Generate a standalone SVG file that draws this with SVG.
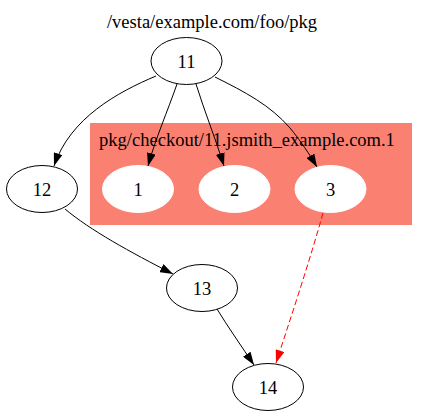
<svg xmlns="http://www.w3.org/2000/svg" width="427" height="416" viewBox="0 0 427 416">
<defs>
<marker id="ah" viewBox="0 0 13 9" refX="13" refY="4.5" markerWidth="13" markerHeight="9" markerUnits="userSpaceOnUse" orient="auto"><path d="M0,0 L13,4.5 L0,9 z" fill="#000"/></marker>
<marker id="ahr" viewBox="0 0 13 9" refX="13" refY="4.5" markerWidth="13" markerHeight="9" markerUnits="userSpaceOnUse" orient="auto"><path d="M0,0 L13,4.5 L0,9 z" fill="#f00"/></marker>
<style>
text{font-family:"Liberation Serif","Times New Roman",serif;font-size:18.5px;fill:#000}
.n ellipse{fill:#fff;stroke:#000;stroke-width:1}
.w ellipse{fill:#fff;stroke:#fff;stroke-width:1}
.e{fill:none;stroke:#000;stroke-width:1;marker-end:url(#ah)}
.r{fill:none;stroke:#f00;stroke-width:1;stroke-dasharray:6,3;marker-end:url(#ahr)}
.c{text-anchor:middle}
</style>
</defs>
<rect width="427" height="416" fill="#fff"/>
<text x="212" y="28" class="c">/vesta/example.com/foo/pkg</text>
<g id="cluster">
<rect x="90" y="123" width="322" height="102" fill="#fa8072"/>
<text x="247" y="146" class="c">pkg/checkout/11.jsmith_example.com.1</text>
</g>
<g id="edges">
<path class="e" d="M156,76 C118,92 70,118 54,166"/>
<path class="e" d="M177,84 C168,110 155,140 148,166"/>
<path class="e" d="M196,84 C204,110 216,140 224,166"/>
<path class="e" d="M215,77 C245,92 270,105 290,128 C300,140 310,155 317,167"/>
<path class="e" d="M65,209 C90,230 130,252 173,274"/>
<path class="e" d="M217,309 C228,327 242,347 254,365"/>
<path class="r" d="M323,213 C310,260 290,320 276,363"/>
</g>
<g id="n11" class="n"><ellipse cx="186.5" cy="61" rx="35.5" ry="23.5"/><text x="186.5" y="68" class="c">11</text></g>
<g id="n1" class="w"><ellipse cx="138" cy="189" rx="35.5" ry="23.5"/><text x="138" y="196" class="c">1</text></g>
<g id="n2" class="w"><ellipse cx="234.5" cy="189" rx="35.5" ry="23.5"/><text x="234.5" y="196" class="c">2</text></g>
<g id="n3" class="w"><ellipse cx="330.5" cy="189" rx="35.5" ry="23.5"/><text x="330.5" y="196" class="c">3</text></g>
<g id="n12" class="n"><ellipse cx="42" cy="189" rx="35.5" ry="23.5"/><text x="42" y="196" class="c">12</text></g>
<g id="n13" class="n"><ellipse cx="202" cy="288" rx="35.5" ry="23.5"/><text x="202" y="295" class="c">13</text></g>
<g id="n14" class="n"><ellipse cx="268" cy="387" rx="35.5" ry="23.5"/><text x="268" y="394" class="c">14</text></g>
</svg>
